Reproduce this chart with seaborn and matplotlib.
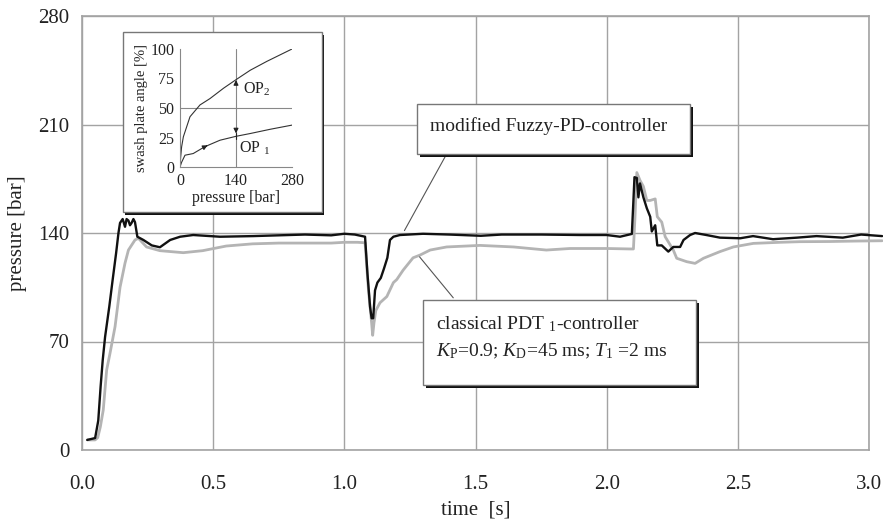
import numpy as np
import pandas as pd
import matplotlib.pyplot as plt
import seaborn as sns
from matplotlib.patches import Rectangle

# pressure response of the two controllers
t_fuzzy = [0.02, 0.05, 0.062, 0.071, 0.079, 0.088, 0.104, 0.117, 0.13, 0.139, 0.145,
           0.155, 0.164, 0.17, 0.177, 0.183, 0.189, 0.196, 0.202, 0.211, 0.234, 0.266,
           0.297, 0.336, 0.374, 0.424, 0.526, 0.652, 0.75, 0.85, 0.95, 1.0, 1.04, 1.079,
           1.088, 1.098, 1.104, 1.11, 1.117, 1.126, 1.139, 1.151, 1.164, 1.174, 1.187,
           1.212, 1.3, 1.4, 1.52, 1.6, 1.75, 1.899, 2.0, 2.051, 2.096, 2.102, 2.106,
           2.115, 2.121, 2.127, 2.14, 2.153, 2.166, 2.172, 2.185, 2.193, 2.21, 2.235,
           2.254, 2.28, 2.293, 2.318, 2.337, 2.38, 2.432, 2.509, 2.558, 2.634, 2.725,
           2.8, 2.9, 2.97, 3.05]
p_fuzzy = [6.5, 7.7, 19, 41, 58, 73, 92.5, 110, 127, 140, 146.5,
           149, 144, 149, 148, 145, 146.5, 149, 147, 137.6, 135.5, 132,
           130.8, 135.5, 137.6, 138.7, 137.6, 138, 138.5, 139, 138.5, 139.5, 139, 137.6,
           114, 92.5, 85, 85, 103, 108, 111, 117, 124, 135.5, 137.6,
           138.7, 139.5, 139, 138.2, 139, 139, 138.7, 138.7, 137.6, 139.4, 161, 176,
           175.5, 163, 172, 163, 156, 150.5, 141, 145, 132, 132, 128,
           131, 131, 135.5, 138.7, 140, 138.7, 137, 136.6, 138, 136, 137,
           138, 137, 139, 138]

t_classic = [0.02, 0.05, 0.06, 0.07, 0.081, 0.094, 0.107, 0.126, 0.145, 0.164, 0.177,
             0.202, 0.215, 0.246, 0.297, 0.386, 0.46, 0.55, 0.65, 0.75, 0.85, 0.95,
             1.0, 1.05, 1.079, 1.092, 1.104, 1.108, 1.113, 1.12, 1.136, 1.162, 1.187,
             1.2, 1.224, 1.262, 1.289, 1.327, 1.39, 1.517, 1.645, 1.77, 1.86, 2.0,
             2.09, 2.102, 2.108, 2.115, 2.127, 2.14, 2.153, 2.166, 2.185, 2.193, 2.21,
             2.223, 2.254, 2.267, 2.305, 2.337, 2.369, 2.432, 2.483, 2.559, 2.661,
             2.737, 2.85, 2.95, 3.05]
p_classic = [6.5, 6.5, 8, 15, 25.8, 51.6, 62.6, 79.6, 105, 120.6, 129,
             135.5, 136.6, 131, 128.6, 127.3, 128.6, 131.6, 133, 133.5, 133.5, 133.5,
             134, 134, 133.7, 103, 82, 74, 82, 90, 95, 99, 108,
             110, 116, 124, 125.8, 129, 131, 132, 131, 129, 130, 130,
             129.7, 129.7, 150.5, 179, 174, 170, 161, 161, 162, 150.5, 147,
             137.6, 129, 123.7, 121.5, 120.4, 123.7, 128, 131, 133.3, 134,
             134.4, 134.5, 134.8, 135]

# inset: swash plate characteristic
p_op2 = [0, 1.7, 4, 8.4, 25, 50, 75, 109, 140, 175.6, 217, 250, 280]
a_op2 = [0, 8.5, 17, 25.6, 42.6, 52.6, 58, 66.8, 74, 82, 89.5, 95, 100]
p_op1 = [0, 4, 12.5, 33, 54, 71, 100, 140, 176, 226, 280]
a_op1 = [0, 4, 10, 11.4, 15.6, 18.5, 22.7, 26, 28.4, 32, 35.5]

x_ticks = [0.0, 0.5, 1.0, 1.5, 2.0, 2.5, 3.0]
y_ticks = [0, 70, 140, 210, 280]

sns.set_theme(style="white")
plt.rcParams['font.family'] = ['Liberation Serif', 'DejaVu Serif']
plt.rcParams['mathtext.fontset'] = 'custom'
plt.rcParams['mathtext.rm'] = 'Liberation Serif'
plt.rcParams['mathtext.it'] = 'Liberation Serif:italic'

W, H = 883, 521


def fx(x):
    return x / W


def fy(y):
    return 1 - y / H


fig = plt.figure(figsize=(W / 100, H / 100), dpi=100)
ax = fig.add_axes([fx(82), fy(450), fx(869) - fx(82), fy(16) - fy(450)])

grid_c = '#a3a3a3'
df_f = pd.DataFrame({'t': t_fuzzy, 'p': p_fuzzy})
df_c = pd.DataFrame({'t': t_classic, 'p': p_classic})
sns.lineplot(data=df_c, x='t', y='p', ax=ax, color='#b4b4b4', linewidth=2.0,
             clip_on=False, zorder=3)
sns.lineplot(data=df_f, x='t', y='p', ax=ax, color='#111111', linewidth=1.7,
             clip_on=False, zorder=4)

ax.set_xlim(0, 3.0)
ax.set_ylim(0, 280)
ax.set_xticks(x_ticks)
ax.set_xticklabels([f'{v:.1f}' for v in x_ticks])
ax.set_yticks(y_ticks)
ax.grid(True, color=grid_c, linewidth=1.0)
for s in ax.spines.values():
    s.set_color(grid_c)
    s.set_linewidth(1.2)
ax.tick_params(axis='both', direction='out', length=5, width=1, color=grid_c,
               labelsize=15, labelcolor='#222222', pad=13)
ax.tick_params(axis='y', pad=4)
ax.set_xlabel('time  [s]', fontsize=15, color='#222222', labelpad=5)
ax.set_ylabel('pressure [bar]', fontsize=15, color='#222222', labelpad=8)

# leader lines from the label boxes to the curves
ax.annotate('', xy=(1.224, 140), xytext=(1.392, 191.6),
            arrowprops=dict(arrowstyle='-', color='#555555', lw=0.8), zorder=5)
ax.annotate('', xy=(1.28, 126), xytext=(1.422, 96.8),
            arrowprops=dict(arrowstyle='-', color='#555555', lw=0.8), zorder=5)


def shadow_box(x0, y0, x1, y1, off=3):
    fig.patches.append(Rectangle((fx(x0 + off), fy(y1 + off)), fx(x1 - x0), fy(y0) - fy(y1),
                                 transform=fig.transFigure, facecolor='#111111',
                                 edgecolor='none', zorder=6))
    fig.patches.append(Rectangle((fx(x0), fy(y1)), fx(x1 - x0), fy(y0) - fy(y1),
                                 transform=fig.transFigure, facecolor='white',
                                 edgecolor='#777777', linewidth=1.0, zorder=7))


shadow_box(417, 104, 690, 154)
fig.text(fx(430), fy(126), 'modified Fuzzy-PD-controller', fontsize=14,
         va='center', ha='left', color='#222222', zorder=8)

shadow_box(423, 300, 696, 385)
fig.text(fx(436), fy(324), r'classical PDT $_{1}$-controller', fontsize=14,
         va='center', ha='left', color='#222222', zorder=8)
fig.text(fx(436), fy(351),
         r'$K_{\mathrm{P}}$=0.9; $K_{\mathrm{D}}$=45 ms; $T_{1}$ =2 ms',
         fontsize=14, va='center', ha='left', color='#222222', zorder=8)

# inset frame
shadow_box(123, 32, 322, 212, off=2.5)
axi = fig.add_axes([fx(180), fy(167), fx(292) - fx(180), fy(49) - fy(167)], zorder=9)
axi.set_facecolor('white')
sns.lineplot(x=p_op2, y=a_op2, ax=axi, color='#333333', linewidth=0.8)
sns.lineplot(x=p_op1, y=a_op1, ax=axi, color='#333333', linewidth=0.8)
axi.axvline(140, color='#888888', lw=0.8, zorder=0)
axi.axhline(50, color='#888888', lw=0.8, zorder=0)
axi.set_xlim(0, 280)
axi.set_ylim(0, 100)
axi.set_xticks([0, 140, 280])
axi.set_yticks([0, 25, 50, 75, 100])
for side in ['top', 'right']:
    axi.spines[side].set_visible(False)
for side in ['left', 'bottom']:
    axi.spines[side].set_color('#888888')
    axi.spines[side].set_linewidth(0.8)
axi.tick_params(length=0, labelsize=11.5, labelcolor='#222222', pad=4)
axi.set_xlabel('pressure [bar]', fontsize=11.5, color='#222222', labelpad=1)
axi.set_ylabel('swash plate angle [%]', fontsize=10.5, color='#222222', labelpad=2)
arr = dict(arrowstyle='-|>', color='#222222', lw=0.8, mutation_scale=7)
axi.annotate('', xy=(75, 19.5), xytext=(60, 16.8), arrowprops=arr)
axi.annotate('', xy=(140, 28.5), xytext=(140, 33), arrowprops=arr)
axi.plot([140, 140], [24, 28.5], color='#222222', lw=0.8)
axi.annotate('', xy=(140, 76), xytext=(140, 69), arrowprops=arr)
axi.text(158, 66, r'OP$_{2}$', fontsize=11.5, color='#222222', va='center')
axi.text(148, 16, r'OP $_{1}$', fontsize=11.5, color='#222222', va='center')

fig.savefig('out.png', dpi=100, facecolor='white')
